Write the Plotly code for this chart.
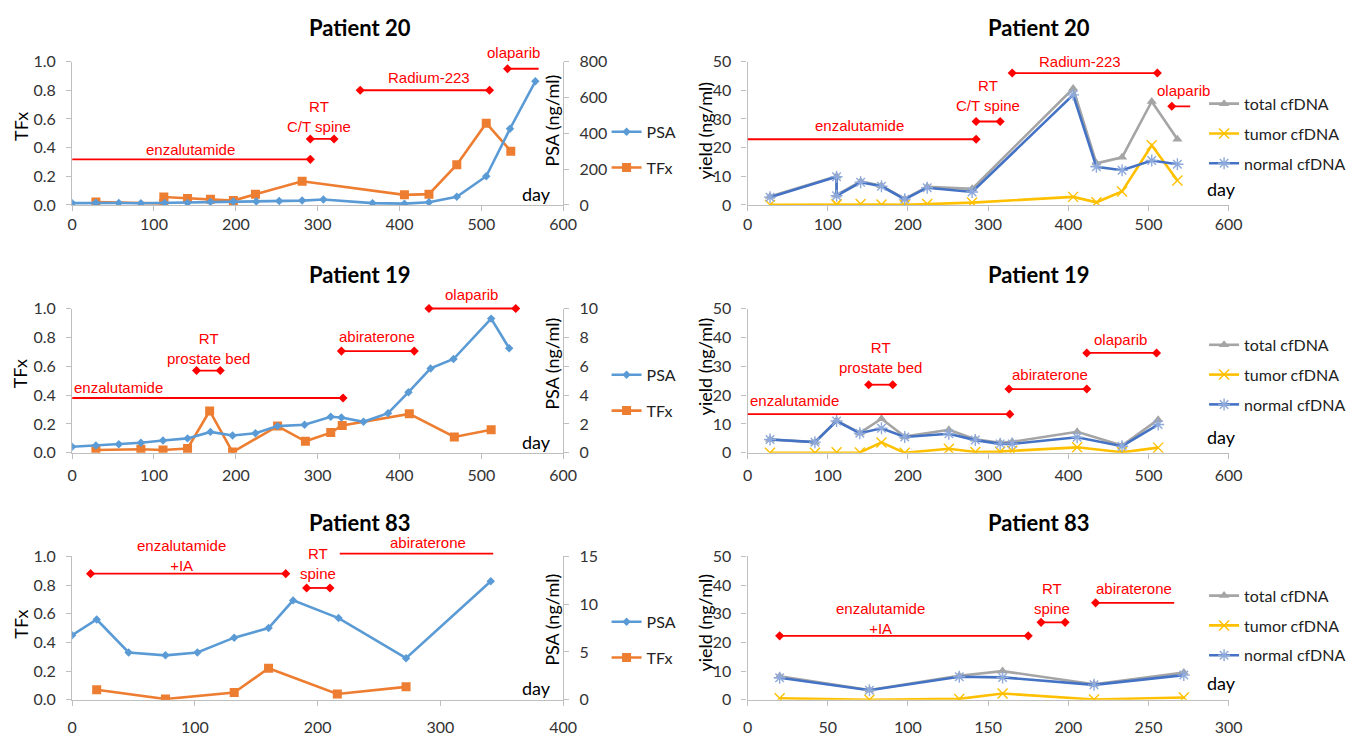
import plotly.graph_objects as go

# ---------------------------------------------------------------- data
# Patient 20 : PSA (ng/ml) and tumour fraction
p20_psa_day = [0, 29, 57, 84, 113, 141, 169, 197, 225, 253, 281, 307, 367, 406, 436, 470, 506, 535, 566]
p20_psa = [10, 12, 11, 9, 11, 11, 17, 19, 19, 22, 24, 30, 10, 7, 15, 45, 160, 425, 690]
p20_tfx_day = [29, 112, 112, 141, 169, 197, 224, 281, 406, 436, 470, 506, 536]
p20_tfx = [0.02, 0.01, 0.055, 0.045, 0.04, 0.03, 0.075, 0.165, 0.07, 0.075, 0.28, 0.57, 0.375]
# Patient 20 : cfDNA yield (ng/ml)
p20_cf_day = [28, 111, 111, 141, 167, 196, 224, 280, 406, 435, 467, 504, 536]
p20_total = [2.9, 10.0, 3.4, 8.2, 6.7, 2.1, 6.3, 5.6, 40.6, 14.5, 16.6, 36.1, 22.9]
p20_tumor = [0.0, 0.1, 0.2, 0.3, 0.1, 0.0, 0.3, 0.8, 2.8, 0.9, 4.7, 20.8, 8.5]
p20_normal = [2.7, 9.8, 3.2, 7.9, 6.5, 2.0, 6.0, 4.5, 38.4, 13.3, 12.1, 15.5, 14.2]

# Patient 19
p19_psa_day = [0, 29, 57, 84, 111, 141, 169, 196, 224, 251, 284, 316, 329, 356, 386, 411, 438, 466, 512, 534]
p19_psa = [0.42, 0.5, 0.6, 0.7, 0.85, 1.0, 1.45, 1.2, 1.35, 1.85, 1.95, 2.5, 2.45, 2.15, 2.75, 4.2, 5.85, 6.5, 9.3, 7.25]
p19_tfx_day = [29, 84, 111, 141, 168, 196, 251, 285, 316, 330, 412, 467, 512]
p19_tfx = [0.02, 0.025, 0.02, 0.03, 0.29, 0.005, 0.185, 0.08, 0.14, 0.19, 0.27, 0.11, 0.16]
p19_cf_day = [28, 84, 111, 140, 167, 196, 251, 284, 315, 330, 411, 467, 512]
p19_total = [4.6, 3.7, 11.2, 6.9, 11.8, 5.6, 8.0, 4.7, 3.5, 3.8, 7.3, 2.5, 11.5]
p19_tumor = [0.0, 0.0, 0.2, 0.1, 3.6, 0.0, 1.4, 0.3, 0.4, 0.7, 1.9, 0.2, 1.8]
p19_normal = [4.6, 3.7, 11.0, 6.8, 8.5, 5.5, 6.6, 4.4, 3.1, 3.1, 5.4, 2.3, 9.8]

# Patient 83
p83_psa_day = [0, 20, 46, 76, 102, 132, 160, 180, 217, 272, 341]
p83_psa = [6.75, 8.4, 4.95, 4.65, 4.95, 6.5, 7.5, 10.4, 8.55, 4.35, 12.4]
p83_tfx_day = [20, 76, 132, 160, 216, 272]
p83_tfx = [0.07, 0.005, 0.05, 0.22, 0.04, 0.09]
p83_cf_day = [20, 76, 132, 159, 216, 272]
p83_total = [8.2, 3.4, 8.4, 10.0, 5.4, 9.5]
p83_tumor = [0.5, 0.0, 0.3, 2.2, 0.1, 0.8]
p83_normal = [7.7, 3.3, 8.0, 7.8, 5.2, 8.6]

# treatments (name, first day, last day) as drawn on each panel
p20_treat_names = ["enzalutamide", "RT<br>C/T spine", "Radium-223", "olaparib"]
p20L_treat_start = [0, 291, 352, 532]
p20L_treat_end = [291, 320, 510, 570]
p20R_treat_start = [0, 285, 330, 529]
p20R_treat_end = [285, 315, 511, 552]
p20_start_mark = [False, True, True, True]
p20_end_mark = [True, True, True, False]

p19_treat_names = ["enzalutamide", "RT<br>prostate bed", "abiraterone", "olaparib"]
p19L_treat_start = [0, 152, 329, 436]
p19L_treat_end = [331, 181, 418, 542]
p19R_treat_start = [0, 151, 326, 423]
p19R_treat_end = [327, 181, 423, 510]
p19_start_mark = [False, True, True, True]
p19_end_mark = [True, True, True, True]

p83_treat_names = ["enzalutamide<br>+IA", "RT<br>spine", "abiraterone"]
p83L_treat_start = [15, 191, 218]
p83L_treat_end = [174, 210, 343]
p83R_treat_start = [20, 183, 217]
p83R_treat_end = [175, 198, 266]
p83_start_mark = [True, True, True]
p83_end_mark = [True, True, False]

psa_ticks_p20 = [0, 200, 400, 600, 800]
psa_ticks_p19 = [0, 2, 4, 6, 8, 10]
psa_ticks_p83 = [0, 5, 10, 15]
tfx_ticks = [0.0, 0.2, 0.4, 0.6, 0.8, 1.0]
yield_ticks = [0, 10, 20, 30, 40, 50]
day_ticks_600 = [0, 100, 200, 300, 400, 500, 600]
day_ticks_400 = [0, 100, 200, 300, 400]
day_ticks_300 = [0, 50, 100, 150, 200, 250, 300]

# ---------------------------------------------------------------- layout / style
PAGE_W, PAGE_H = 1372, 744
OFF = 8                      # default body margin of the page
W, H = PAGE_W - 2 * OFF, PAGE_H - 2 * OFF


def fx(px):                  # page pixel -> paper x
    return (px - OFF) / W


def fy(py):                  # page pixel -> paper y
    return 1 - (py - OFF) / H


COLS = {"L": (68, 566), "R": (753, 1241)}
ROWS = [(53, 201), (308, 457), (564, 712)]
XSTANDOFF = [0, 3, 8]

C_PSA, C_TFX = "#5B9BD5", "#ED7D31"
C_TOT, C_TUM, C_NOR = "#A5A5A5", "#FFC000", "#4472C4"
RED = "#FF0000"
AXC = "#BFBFBF"
TICKFONT = dict(family="Lato", size=16, color="#333333")
REDFONT = dict(family="Liberation Sans", size=15, color=RED)

panels = [
    dict(col="L", row=0, title="Patient 20", xticks=day_ticks_600, psa_ticks=psa_ticks_p20,
         psa_day=p20_psa_day, psa=p20_psa, tfx_day=p20_tfx_day, tfx=p20_tfx,
         names=p20_treat_names, start=p20L_treat_start, end=p20L_treat_end,
         smark=p20_start_mark, emark=p20_end_mark,
         levels=[0.318, 0.46, 0.80, 0.95],
         labels=[(145, 0.39, "center"), (302, 0.615, "center"), (436, 0.89, "center"), (539, 1.06, "center")],
         ytitle_y=0.55, psatitle_y=0.59, day_y=0.074, leg_top=127),
    dict(col="R", row=0, title="Patient 20", xticks=day_ticks_600,
         cf_day=p20_cf_day, total=p20_total, tumor=p20_tumor, normal=p20_normal,
         names=p20_treat_names, start=p20R_treat_start, end=p20R_treat_end,
         smark=p20_start_mark, emark=p20_end_mark,
         levels=[22.9, 29.1, 46.0, 34.4],
         labels=[(140, 27.6, "center"), (300, 38.0, "center"), (414, 50.0, "center"), (543, 39.8, "center")],
         ytitle_y=0.52, day_y=0.108, leg_top=98),
    dict(col="L", row=1, title="Patient 19", xticks=day_ticks_600, psa_ticks=psa_ticks_p19,
         psa_day=p19_psa_day, psa=p19_psa, tfx_day=p19_tfx_day, tfx=p19_tfx,
         names=p19_treat_names, start=p19L_treat_start, end=p19L_treat_end,
         smark=p19_start_mark, emark=p19_end_mark,
         levels=[0.38, 0.57, 0.705, 1.0],
         labels=[(0, 0.45, "left"), (167, 0.72, "center"), (372, 0.805, "center"), (488, 1.1, "center")],
         ytitle_y=0.55, psatitle_y=0.62, day_y=0.074, leg_top=378),
    dict(col="R", row=1, title="Patient 19", xticks=day_ticks_600,
         cf_day=p19_cf_day, total=p19_total, tumor=p19_tumor, normal=p19_normal,
         names=p19_treat_names, start=p19R_treat_start, end=p19R_treat_end,
         smark=p19_start_mark, emark=p19_end_mark,
         levels=[13.4, 23.6, 22.1, 34.6],
         labels=[(0, 18.1, "left"), (166, 33.0, "center"), (377, 27.2, "center"), (465, 39.3, "center")],
         ytitle_y=0.60, day_y=0.107, leg_top=347),
    dict(col="L", row=2, title="Patient 83", xticks=day_ticks_400, psa_ticks=psa_ticks_p83,
         psa_day=p83_psa_day, psa=p83_psa, tfx_day=p83_tfx_day, tfx=p83_tfx,
         names=p83_treat_names, start=p83L_treat_start, end=p83L_treat_end,
         smark=p83_start_mark, emark=p83_end_mark,
         levels=[0.88, 0.78, 1.02],
         labels=[(89, 1.01, "center"), (200, 0.95, "center"), (290, 1.1, "center")],
         ytitle_y=0.53, psatitle_y=0.56, day_y=0.08, leg_top=633),
    dict(col="R", row=2, title="Patient 83", xticks=day_ticks_300,
         cf_day=p83_cf_day, total=p83_total, tumor=p83_tumor, normal=p83_normal,
         names=p83_treat_names, start=p83R_treat_start, end=p83R_treat_end,
         smark=p83_start_mark, emark=p83_end_mark,
         levels=[22.3, 27.0, 33.8],
         labels=[(83, 28.35, "center"), (190, 35.3, "center"), (241, 38.9, "center")],
         ytitle_y=0.54, day_y=0.115, leg_top=606),
]
TITLE_Y = [18, 273, 529]

fig = go.Figure()
layout = dict(width=W, height=H, margin=dict(l=0, r=0, t=0, b=0), autosize=False,
              paper_bgcolor="white", plot_bgcolor="white", showlegend=True)
shapes, annotations = [], []


def axis_base():
    return dict(showline=True, linecolor=AXC, linewidth=1.3, ticks="outside", ticklen=5,
                tickcolor=AXC, tickwidth=1.3, showgrid=False, zeroline=False,
                tickfont=TICKFONT, fixedrange=True)


for i, p in enumerate(panels):
    k = i + 1
    xs = "" if k == 1 else str(k)
    xa, ya = "x" + xs, "y" + xs
    x0p, x1p = COLS[p["col"]]
    y0p, y1p = ROWS[p["row"]]
    xdom = [fx(x0p), fx(x1p)]
    ydom = [fy(y1p), fy(y0p)]
    xt = p["xticks"]
    left = p["col"] == "L"
    ymax = 1.0 if left else 50
    yt = tfx_ticks if left else yield_ticks

    layout["xaxis" + xs] = dict(axis_base(), domain=xdom, anchor=ya, range=[xt[0], xt[-1]],
                                tickvals=xt, ticklabelstandoff=XSTANDOFF[p["row"]])
    layout["yaxis" + xs] = dict(axis_base(), domain=ydom, anchor=xa, range=[0, ymax],
                                tickvals=yt, tickformat=".1f" if left else "d",
                                ticklabelstandoff=7)
    leg = "legend" if k == 1 else "legend" + str(k)

    if left:
        psa_ax = "y" + str(6 + p["row"] + 1)
        pt = p["psa_ticks"]
        layout["yaxis" + str(6 + p["row"] + 1)] = dict(axis_base(), overlaying=ya, anchor=xa,
                                                      side="right", range=[pt[0], pt[-1]],
                                                      tickvals=pt, ticklabelstandoff=7)
        fig.add_trace(go.Scatter(x=p["psa_day"], y=p["psa"], name="PSA", mode="lines+markers",
                                 xaxis=xa, yaxis=psa_ax, legend=leg, legendgroup="psa" + xs,
                                 line=dict(color=C_PSA, width=2.6),
                                 marker=dict(symbol="diamond", size=6.5, color=C_PSA)))
        fig.add_trace(go.Scatter(x=p["tfx_day"], y=p["tfx"], name="TFx", mode="lines+markers",
                                 xaxis=xa, yaxis=ya, legend=leg, legendgroup="tfx" + xs,
                                 line=dict(color=C_TFX, width=2.6),
                                 marker=dict(symbol="square", size=9, color=C_TFX)))
        gap = 12
    else:
        fig.add_trace(go.Scatter(x=p["cf_day"], y=p["total"], name="total cfDNA", mode="lines+markers",
                                 xaxis=xa, yaxis=ya, legend=leg, legendgroup="tot" + xs,
                                 line=dict(color=C_TOT, width=2.6),
                                 marker=dict(symbol="triangle-up", size=9, color=C_TOT)))
        fig.add_trace(go.Scatter(x=p["cf_day"], y=p["tumor"], name="tumor cfDNA", mode="lines+markers",
                                 xaxis=xa, yaxis=ya, legend=leg, legendgroup="tum" + xs,
                                 line=dict(color=C_TUM, width=2.6),
                                 marker=dict(symbol="x-thin", size=10, color=C_TUM,
                                             line=dict(color=C_TUM, width=1.4))))
        fig.add_trace(go.Scatter(x=p["cf_day"], y=p["normal"], name="normal cfDNA", mode="lines+markers",
                                 xaxis=xa, yaxis=ya, legend=leg, legendgroup="nor" + xs,
                                 line=dict(color=C_NOR, width=2.6),
                                 marker=dict(symbol="asterisk", size=10, color="#8EA9DB",
                                             line=dict(color="#8EA9DB", width=1.4))))
        gap = 6

    # legend for this panel
    layout[leg] = dict(x=fx(610 if left else 1216), xanchor="left", y=fy(p["leg_top"] - 19),
                       yanchor="top", xref="paper", yref="paper", bgcolor="rgba(0,0,0,0)",
                       font=dict(family="Lato", size=16, color="#222222"),
                       tracegroupgap=gap, traceorder="grouped", itemclick=False,
                       itemdoubleclick=False)

    # treatment bars
    for j, nm in enumerate(p["names"]):
        s, e, lv = p["start"][j], p["end"][j], p["levels"][j]
        shapes.append(dict(type="line", xref=xa, yref=ya + " domain", x0=s, x1=e,
                           y0=lv / ymax, y1=lv / ymax, line=dict(color=RED, width=1.8)))
        mx = []
        if p["smark"][j]:
            mx.append(s)
        if p["emark"][j]:
            mx.append(e)
        fig.add_trace(go.Scatter(x=mx, y=[lv] * len(mx), mode="markers", xaxis=xa, yaxis=ya,
                                 showlegend=False, cliponaxis=False, hoverinfo="skip",
                                 marker=dict(symbol="diamond", size=7, color=RED)))
        lxv, lyv, anc = p["labels"][j]
        annotations.append(dict(x=lxv, y=lyv / ymax, xref=xa, yref=ya + " domain", text=nm,
                                showarrow=False, xanchor=anc, yanchor="middle", font=REDFONT))

    # titles and axis labels
    plot_w = x1p - x0p
    annotations.append(dict(x=fx(360 if left else 1049), y=fy(TITLE_Y[p["row"]]),
                            xref="paper", yref="paper", text="<b>" + p["title"] + "</b>",
                            showarrow=False, font=dict(family="Lato", size=22, color="black"),
                            xanchor="center", yanchor="middle"))
    annotations.append(dict(x=((16 if left else 710) - x0p) / plot_w, y=p["ytitle_y"],
                            xref=xa + " domain", yref=ya + " domain",
                            text="TFx" if left else "yield (ng/ml)", textangle=-90, showarrow=False,
                            font=dict(family="Lato", size=18, color="black"),
                            xanchor="center", yanchor="middle"))
    if left:
        annotations.append(dict(x=(555 - x0p) / plot_w, y=p["psatitle_y"],
                                xref=xa + " domain", yref=ya + " domain",
                                text="PSA (ng/ml)", textangle=-90, showarrow=False,
                                font=dict(family="Lato", size=18, color="black"),
                                xanchor="center", yanchor="middle"))
    annotations.append(dict(x=0.946 if left else 0.984, y=p["day_y"],
                            xref=xa + " domain", yref=ya + " domain", text="day", showarrow=False,
                            font=dict(family="Lato", size=18, color="black"),
                            xanchor="center", yanchor="middle"))

layout["shapes"] = shapes
layout["annotations"] = annotations
fig.update_layout(**layout)

fig.write_html("out.html", config={"displayModeBar": False})
